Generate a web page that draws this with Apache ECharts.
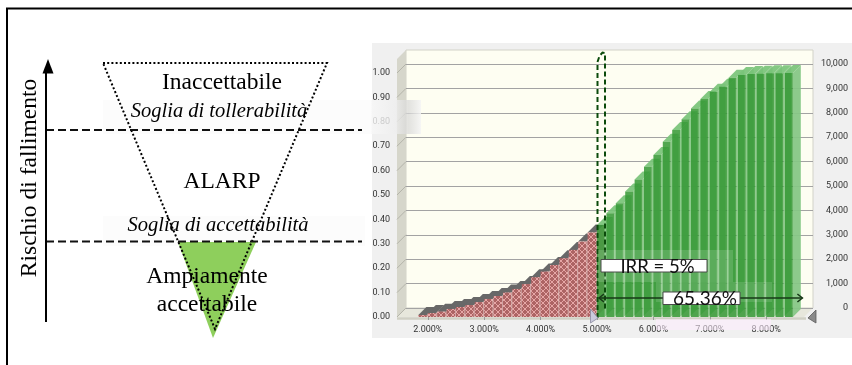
<!DOCTYPE html>
<html>
<head>
<meta charset="utf-8">
<script src="https://cdn.jsdelivr.net/npm/echarts@6/dist/echarts.min.js"></script>
<style>
  html, body { margin: 0; padding: 0; background: #ffffff; }
  #chart { width: 852px; height: 365px; }
</style>
</head>
<body>
<div id="chart"></div>
<script>
// ---- Cumulative distribution of the IRR (simulation output) ----
const binStart = 1.8333;          // lower edge of the first bin, in %
const binWidth = 0.16667;         // bin width, in %
// cumulative probability of bins below the 5% threshold
const cumBelow = [0.008, 0.016, 0.022, 0.033, 0.041, 0.049, 0.061, 0.074, 0.086, 0.100,
                  0.115, 0.135, 0.163, 0.186, 0.213, 0.241, 0.275, 0.309, 0.3464];
// cumulative probability of bins above the 5% threshold
const cumAbove = [0.377, 0.425, 0.466, 0.514, 0.564, 0.616, 0.664, 0.718, 0.766, 0.810,
                  0.855, 0.893, 0.923, 0.944, 0.981, 0.992, 0.996, 0.997, 0.999, 0.999, 1.000];
const xTickValues = [2, 3, 4, 5, 6, 7, 8];
const irrThreshold = 5;
const irrLabel = 'IRR = 5%';
const certaintyLabel = '65.36%';

// ---- Risk acceptability scheme (ALARP) ----
const axisTitle = 'Rischio di fallimento';
const zoneTexts = ['Inaccettabile', 'ALARP', 'Ampiamente', 'accettabile'];
const thresholdTexts = ['Soglia di tollerabilità', 'Soglia di accettabilità'];

const SERIF = '"Liberation Serif", "Times New Roman", serif';
const SANS = 'Roboto, "DejaVu Sans", sans-serif';
const LABEL_FONT = 'Lato, "Open Sans", sans-serif';
const DEPTH = 9;      // depth of the 3D box
const BAR_DEPTH = 8;  // depth of the bars

function hatchCanvas() {
  const c = document.createElement('canvas');
  c.width = 6; c.height = 6;
  const g = c.getContext('2d');
  g.fillStyle = '#ad6464';
  g.fillRect(0, 0, 6, 6);
  g.strokeStyle = '#e6a6a6';
  g.lineWidth = 1;
  g.beginPath();
  g.moveTo(0, 0); g.lineTo(6, 6);
  g.moveTo(6, 0); g.lineTo(0, 6);
  g.stroke();
  return c;
}

function barRenderer(colors, gapPx, depth) {
  return function (params, api) {
    const xc = api.value(0), v = api.value(1);
    const a = api.coord([xc - binWidth / 2, v]);
    const b = api.coord([xc + binWidth / 2, 0]);
    const x0 = a[0], x1 = b[0] - gapPx, yt = a[1], yb = b[1];
    return {
      type: 'group',
      children: [
        { type: 'polygon', shape: { points: [[x1, yt], [x1 + depth, yt - depth], [x1 + depth, yb - depth], [x1, yb]] },
          style: { fill: colors.side } },
        { type: 'polygon', shape: { points: [[x0, yt], [x0 + depth, yt - depth], [x1 + depth, yt - depth], [x1, yt]] },
          style: { fill: colors.top } },
        { type: 'rect', shape: { x: x0, y: yt, width: x1 - x0, height: yb - yt },
          style: { fill: colors.front } }
      ]
    };
  };
}

const belowData = cumBelow.map((v, i) => [binStart + (i + 0.5) * binWidth, v]);
const aboveData = cumAbove.map((v, i) => [binStart + (cumBelow.length + i + 0.5) * binWidth, v]);

const chart = echarts.init(document.getElementById('chart'), null, { renderer: 'canvas' });

const axisFont = { color: '#333', fontFamily: SANS, fontSize: 9 };

chart.setOption({
  animation: false,
  backgroundColor: '#ffffff',
  grid: [
    { left: 371.4, top: 73, width: 451.2, height: 244 },   // front plane
    { left: 406, top: 64, width: 407, height: 244 }        // back wall
  ],
  xAxis: [
    {
      gridIndex: 0, type: 'value', min: 1, max: 9, interval: 1, offset: 2,
      axisLine: { show: false }, splitLine: { show: false },
      axisTick: { show: true, customValues: xTickValues, length: 3, lineStyle: { color: '#9a9a9a' } },
      axisLabel: Object.assign({ customValues: xTickValues, margin: 6,
        formatter: v => v.toFixed(3) + '%' }, axisFont)
    },
    { gridIndex: 1, type: 'value', min: 0, max: 1, show: false }
  ],
  yAxis: [
    {
      gridIndex: 0, type: 'value', min: 0, max: 1, interval: 0.1, offset: -25.6,
      axisLine: { show: false }, axisTick: { show: false }, splitLine: { show: false },
      axisLabel: Object.assign({ margin: 7, formatter: v => v.toFixed(2) }, axisFont)
    },
    {
      gridIndex: 1, type: 'value', position: 'right', min: 0, max: 10000, interval: 1000,
      axisLine: { show: false }, axisTick: { show: false },
      splitLine: { show: true, lineStyle: { color: '#a3a3a3', width: 1 } },
      axisLabel: Object.assign({ margin: 35, align: 'right', padding: [0, 0, 5, 0],
        formatter: v => v.toLocaleString('en-US') }, axisFont)
    }
  ],
  series: [
    {
      type: 'custom', name: 'below', xAxisIndex: 0, yAxisIndex: 0, clip: false, z: 3,
      renderItem: barRenderer({ front: { image: hatchCanvas(), repeat: 'repeat' }, top: '#686868', side: '#cfa2a2' }, 1, BAR_DEPTH),
      data: belowData
    },
    {
      type: 'custom', name: 'above', xAxisIndex: 0, yAxisIndex: 0, clip: false, z: 3,
      renderItem: barRenderer({ front: 'rgba(52,152,52,0.85)', top: 'rgba(120,195,120,0.92)', side: 'rgba(132,198,132,0.93)' }, 1.6, BAR_DEPTH),
      data: aboveData
    }
  ]
});

// ---- Decorations placed from the axes ----
const fx = v => chart.convertToPixel({ xAxisIndex: 0 }, v);
const fy = v => chart.convertToPixel({ yAxisIndex: 0 }, v);
const by = v => chart.convertToPixel({ yAxisIndex: 1 }, v);

const frontL = fx(1.4539), frontR = fx(8.67);
const floorY = fy(0), backFloorY = floorY - DEPTH;
const wallTop = fy(1) - 23;
const backL = frontL + DEPTH, backR = frontR + DEPTH;

const g = [];

// chart panel and 3D box
g.push({ type: 'rect', z: -10, shape: { x: 372, y: 43, width: 480, height: 295 }, style: { fill: '#f0f0f0' } });
g.push({ type: 'rect', z: -9, shape: { x: backL, y: wallTop, width: backR - backL, height: backFloorY - wallTop },
  style: { fill: '#fefef2', stroke: '#d2d2c8', lineWidth: 1 } });
g.push({ type: 'polygon', z: -9, shape: { points: [[frontL, wallTop + DEPTH], [backL, wallTop], [backL, backFloorY], [frontL, floorY]] },
  style: { fill: '#d6d6cb' } });
g.push({ type: 'polygon', z: -9, shape: { points: [[frontL, floorY], [backL, backFloorY], [backR, backFloorY], [frontR, floorY]] },
  style: { fill: '#e7e7dc' } });
g.push({ type: 'line', z: -8, shape: { x1: frontL, y1: floorY + 1.5, x2: frontR + 2, y2: floorY + 1.5 },
  style: { stroke: '#d0d0c4', lineWidth: 2.5 } });
for (let v = 0; v <= 10000; v += 1000) {
  const yb = by(v);
  g.push({ type: 'line', z: -8, shape: { x1: backL, y1: yb, x2: frontL, y2: yb + DEPTH },
    style: { stroke: '#b4b4aa', lineWidth: 1 } });
}

// IRR threshold marker (dashed loop)
const xi = fx(irrThreshold);
g.push({ type: 'polyline', z: 20, shape: { points: [[xi + 0.5, floorY + 1], [xi + 0.5, 62], [xi + 2.5, 56], [xi + 5.5, 52.5], [xi + 8, 53], [xi + 8, floorY - 6]] },
  style: { stroke: '#0b4a0b', lineWidth: 2, lineDash: [5, 3], fill: null } });

// lighter blocks around the labels
g.push({ type: 'rect', z: 21, shape: { x: xi + 1, y: 250, width: 135, height: 32 }, style: { fill: 'rgba(255,255,255,0.14)' } });
g.push({ type: 'rect', z: 21, shape: { x: 656, y: 282, width: 116, height: 20 }, style: { fill: 'rgba(255,255,255,0.12)' } });
g.push({ type: 'rect', z: 21, shape: { x: 656, y: floorY + 2, width: 115, height: 11 }, style: { fill: 'rgba(255,236,255,0.55)' } });

// certainty range arrow
const lastEdge = fx(binStart + (cumBelow.length + cumAbove.length) * binWidth) + BAR_DEPTH;
const ay = 298;
g.push({ type: 'line', z: 22, shape: { x1: xi + 2, y1: ay, x2: lastEdge, y2: ay }, style: { stroke: '#173817', lineWidth: 1.5 } });
g.push({ type: 'polyline', z: 22, shape: { points: [[xi + 7, ay - 4], [xi + 2, ay], [xi + 7, ay + 4]] }, style: { stroke: '#173817', lineWidth: 1.5, fill: null } });
g.push({ type: 'polyline', z: 22, shape: { points: [[lastEdge - 5, ay - 4], [lastEdge, ay], [lastEdge - 5, ay + 4]] }, style: { stroke: '#173817', lineWidth: 1.5, fill: null } });

// value labels
g.push({ type: 'rect', z: 23, shape: { x: xi + 4, y: 259.5, width: 106, height: 12.5 }, style: { fill: '#ffffff', stroke: '#4a4a4a', lineWidth: 1 } });
g.push({ type: 'text', z: 24, x: xi + 60.5, y: 267, style: { text: irrLabel, font: '18.5px ' + LABEL_FONT, fill: '#111', align: 'center', verticalAlign: 'middle' } });
g.push({ type: 'rect', z: 23, shape: { x: 663, y: 292, width: 77, height: 12.5 }, style: { fill: '#ffffff', stroke: '#4a4a4a', lineWidth: 1 } });
g.push({ type: 'text', z: 24, x: 705, y: 298.5, style: { text: certaintyLabel, font: '19px ' + LABEL_FONT, fill: '#111', align: 'center', verticalAlign: 'middle' } });

// certainty grabbers on the floor
g.push({ type: 'polygon', z: 24, shape: { points: [[xi - 6.5, floorY - 8], [xi - 6.5, floorY + 6], [xi + 1, floorY + 1]] },
  style: { fill: '#cacadc', stroke: '#8a8aa0', lineWidth: 0.8 } });
g.push({ type: 'polygon', z: 24, shape: { points: [[frontR + 12, floorY - 7], [frontR + 12, floorY + 6], [frontR + 4, floorY + 1]] },
  style: { fill: '#8a8a8a', stroke: '#5a5a5a', lineWidth: 0.8 } });

// ---- ALARP scheme ----
g.push({ type: 'polyline', z: 30, shape: { points: [[7, 365], [7, 8.5], [852, 8.5]] }, style: { stroke: '#000', lineWidth: 2, fill: null } });
// faint bands behind the threshold captions
g.push({ type: 'rect', z: 30, shape: { x: 103, y: 100, width: 268, height: 34 }, style: { fill: 'rgba(0,0,0,0.012)' } });
g.push({ type: 'rect', z: 30, shape: { x: 103, y: 216, width: 262, height: 30 }, style: { fill: 'rgba(0,0,0,0.01)' } });
g.push({ type: 'rect', z: 30, shape: { x: 371, y: 100, width: 50, height: 34 },
  style: { fill: { type: 'linear', x: 0, y: 0, x2: 1, y2: 0, colorStops: [
    { offset: 0, color: 'rgba(248,248,248,0.8)' }, { offset: 0.5, color: 'rgba(238,238,238,0.78)' },
    { offset: 0.75, color: 'rgba(215,215,215,0.7)' }, { offset: 1, color: 'rgba(245,245,245,0.85)' }] } } });

g.push({ type: 'polygon', z: 31, shape: { points: [[178, 242], [256, 242], [213, 338]] }, style: { fill: '#8ecf5c' } });
g.push({ type: 'polygon', z: 32, shape: { points: [[103, 63], [327, 63], [215, 329]] },
  style: { fill: null, stroke: '#000', lineWidth: 2, lineDash: [2, 2.2] } });
g.push({ type: 'line', z: 32, shape: { x1: 46, y1: 130, x2: 362, y2: 130 }, style: { stroke: '#111', lineWidth: 2, lineDash: [8, 4] } });
g.push({ type: 'line', z: 32, shape: { x1: 46, y1: 241.5, x2: 362, y2: 241.5 }, style: { stroke: '#111', lineWidth: 2, lineDash: [8, 4] } });
g.push({ type: 'line', z: 32, shape: { x1: 46, y1: 322, x2: 46, y2: 70 }, style: { stroke: '#000', lineWidth: 2 } });
g.push({ type: 'polygon', z: 32, shape: { points: [[48, 59], [42.5, 73.5], [53.5, 73.5]] }, style: { fill: '#000' } });

const serif = (size, italic) => (italic ? 'italic ' : '') + size + 'px ' + SERIF;
g.push({ type: 'text', z: 33, x: 30, y: 178, rotation: Math.PI / 2,
  style: { text: axisTitle, font: serif(23.5), fill: '#000', align: 'center', verticalAlign: 'middle' } });
g.push({ type: 'text', z: 33, x: 222, y: 83, style: { text: zoneTexts[0], font: serif(23.5), fill: '#000', align: 'center', verticalAlign: 'middle' } });
g.push({ type: 'text', z: 33, x: 219, y: 112, style: { text: thresholdTexts[0], font: serif(20.5, true), fill: '#000', align: 'center', verticalAlign: 'middle' } });
g.push({ type: 'text', z: 33, x: 222, y: 182, style: { text: zoneTexts[1], font: serif(23.5), fill: '#000', align: 'center', verticalAlign: 'middle' } });
g.push({ type: 'text', z: 33, x: 218, y: 226, style: { text: thresholdTexts[1], font: serif(20.5, true), fill: '#000', align: 'center', verticalAlign: 'middle' } });
g.push({ type: 'text', z: 33, x: 207, y: 277, style: { text: zoneTexts[2], font: serif(23.5), fill: '#000', align: 'center', verticalAlign: 'middle' } });
g.push({ type: 'text', z: 33, x: 207, y: 305, style: { text: zoneTexts[3], font: serif(23.5), fill: '#000', align: 'center', verticalAlign: 'middle' } });

chart.setOption({ graphic: g });
</script>
</body>
</html>
